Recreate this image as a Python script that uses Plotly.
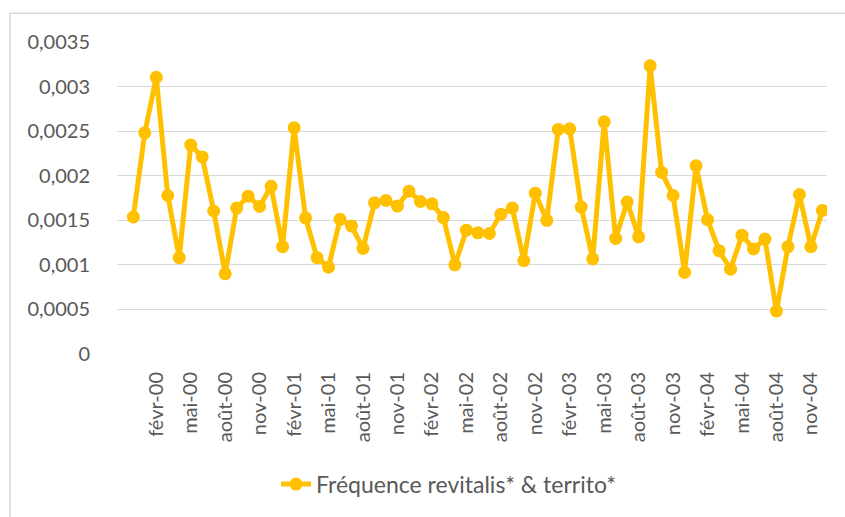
import plotly.graph_objects as go

months = []
mnames = ["janv", "févr", "mars", "avr", "mai", "juin", "juil", "août", "sept", "oct", "nov", "déc"]
months.append("déc-99")
for yy in ["00", "01", "02", "03", "04"]:
    for m in mnames:
        months.append(f"{m}-{yy}")

values = [
    0.001537, 0.002481, 0.003104, 0.001778, 0.001081, 0.002344, 0.002211, 0.001604,
    0.000900, 0.001637, 0.001770, 0.001656, 0.001881, 0.001204, 0.002537, 0.001526,
    0.001081, 0.000974, 0.001511, 0.001437, 0.001185, 0.001696, 0.001722, 0.001659,
    0.001826, 0.001711, 0.001685, 0.001530, 0.001000, 0.001389, 0.001359, 0.001352,
    0.001567, 0.001637, 0.001048, 0.001804, 0.001500, 0.002519, 0.002526, 0.001648,
    0.001067, 0.002604, 0.001296, 0.001704, 0.001315, 0.003233, 0.002037, 0.001778,
    0.000915, 0.002111, 0.001507, 0.001159, 0.000952, 0.001333, 0.001178, 0.001289,
    0.000481, 0.001204, 0.001789, 0.001204, 0.001611,
]

x_ticks = [m for m in months if m.split("-")[0] in ("févr", "mai", "août", "nov")]
y_tickvals = [0, 0.0005, 0.001, 0.0015, 0.002, 0.0025, 0.003, 0.0035]
y_ticktext = ["0", "0,0005", "0,001", "0,0015", "0,002", "0,0025", "0,003", "0,0035"]

series_name = "Fréquence revitalis* & territo*"
color = "#FFC000"
font_color = "#595959"

L, T = 117, 42
PW, PH = 710, 315
fig_w, fig_h = 845, 517

fig = go.Figure()
fig.add_trace(go.Scatter(
    x=months, y=values, mode="lines+markers", name=series_name,
    line=dict(color=color, width=5),
    marker=dict(color=color, size=13),
))

fig.update_layout(
    width=fig_w, height=fig_h,
    margin=dict(l=L, r=fig_w - L - PW, t=T, b=fig_h - T - PH),
    paper_bgcolor="white", plot_bgcolor="white",
    font=dict(family="Lato, 'Open Sans', sans-serif", size=20, color=font_color),
    showlegend=True,
    legend=dict(orientation="h", x=0.224, xanchor="left", y=-0.417, yanchor="middle",
                font=dict(size=23, color=font_color), bgcolor="rgba(0,0,0,0)"),
    xaxis=dict(type="category", range=[-1.42, 60.4], tickmode="array",
               tickvals=x_ticks, ticktext=x_ticks, tickangle=-90,
               showgrid=False, zeroline=False, showline=False, ticks="",
               ticklabelstandoff=13, tickfont=dict(size=20, color=font_color)),
    yaxis=dict(range=[0, 0.0035], tickmode="array", tickvals=y_tickvals,
               ticktext=y_ticktext, showgrid=True, gridcolor="#D9D9D9",
               gridwidth=1.3, zeroline=False, showline=False, ticks="",
               ticklabelstandoff=26, tickfont=dict(size=20, color=font_color)),
    shapes=[dict(type="rect", xref="paper", yref="paper",
                 x0=(10 - L) / PW, x1=1.2, y0=-0.7, y1=(T + PH - 13) / PH,
                 line=dict(color="#D9D9D9", width=1.5), layer="below")],
)

fig.write_html(
    "out.html",
    config={"displayModeBar": False},
    post_script="document.body.style.margin='0';document.body.style.overflow='hidden';"
                "document.documentElement.style.overflow='hidden';",
)
